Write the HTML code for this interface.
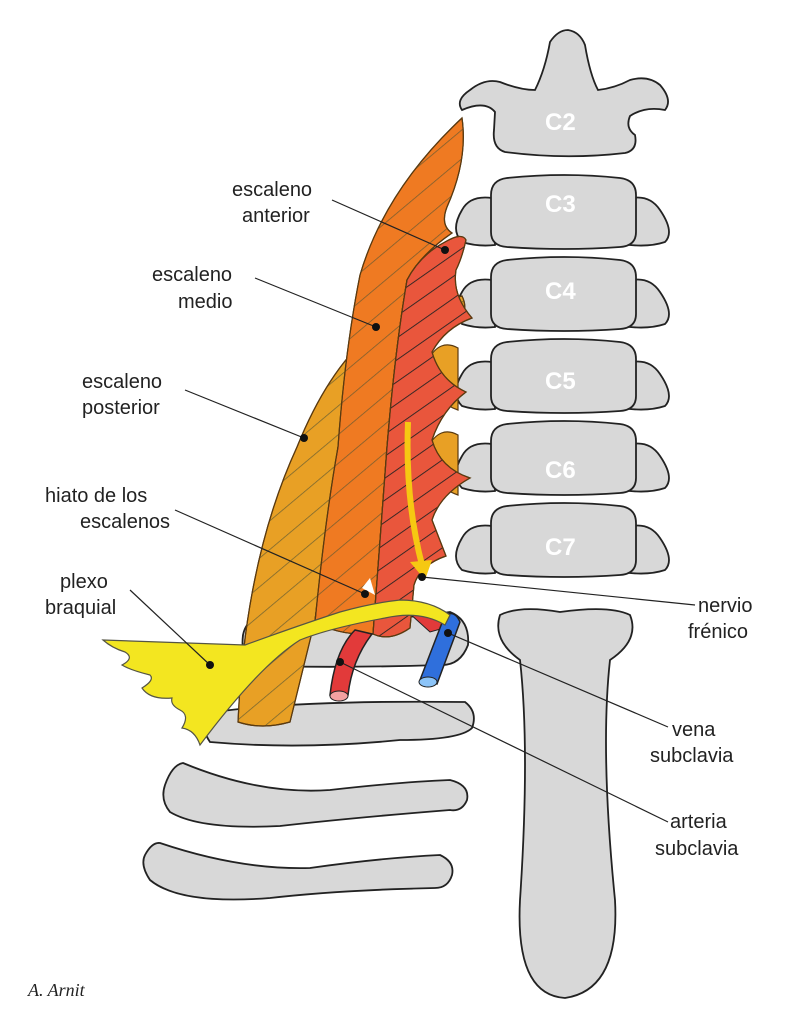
<!DOCTYPE html>
<html><head><style>
html,body{margin:0;padding:0;background:#fff;}
svg{display:block}
text{font-family:"Liberation Sans",sans-serif;font-size:20px;fill:#222}
.w{fill:#fff;font-weight:bold;font-size:24px}
</style></head><body>
<svg width="787" height="1023" viewBox="0 0 787 1023">
<defs>
<pattern id="h" patternUnits="userSpaceOnUse" width="22" height="22" patternTransform="rotate(-40)">
<line x1="0" y1="0" x2="22" y2="0" stroke="#553" stroke-width="1.5" opacity="0.8"/>
</pattern>
<pattern id="h2" patternUnits="userSpaceOnUse" width="18" height="18" patternTransform="rotate(-35)">
<line x1="0" y1="0" x2="18" y2="0" stroke="#222" stroke-width="1.8"/>
</pattern>
<g id="v">
<path d="M492,198 Q470,195 462,210 Q450,230 462,242 Q478,247 495,245 L495,198Z"/>
<path d="M632,198 Q650,195 660,210 Q675,232 665,242 Q650,247 630,245 L630,198Z"/>
<path d="M507,178 Q565,172 620,178 Q636,180 636,195 L636,232 Q636,246 620,247 Q565,251 507,247 Q491,246 491,232 L491,195 Q491,180 507,178Z"/>
</g>
</defs>
<g stroke="#222" stroke-width="1.8" fill="#d8d8d8">
<path d="M500,615 Q520,605 560,612 Q610,605 630,615 Q640,640 610,660 Q600,750 615,900 Q620,990 565,998 Q515,995 520,900 Q530,750 520,660 Q492,640 500,615Z"/>
<path d="M258,620 Q360,625 450,612 Q470,620 468,645 Q460,666 440,665 Q350,668 255,666 Q240,660 243,635 Q246,620 258,620Z"/>
<path d="M215,712 Q300,700 465,702 Q478,712 472,728 Q460,740 400,740 Q300,750 210,742 Q198,725 215,712Z"/>
<path d="M183,763 Q260,795 330,790 Q400,782 450,780 Q470,785 467,800 Q462,812 450,810 Q350,818 280,826 Q200,830 170,812 Q160,800 165,785 Q172,765 183,763Z"/>
<path d="M160,843 Q240,870 310,868 Q380,858 440,855 Q455,862 452,875 Q448,888 435,888 Q340,890 270,898 Q180,905 150,880 Q140,865 145,855 Q152,842 160,843Z"/>
<path d="M495,112 Q485,100 462,110 Q455,100 470,90 Q485,78 500,82 Q520,90 535,90 Q545,70 550,42 Q558,30 568,30 Q580,32 585,45 Q590,75 598,90 Q615,88 630,80 Q648,75 660,85 Q673,100 665,110 Q645,106 630,116 Q625,128 635,135 Q638,150 625,153 Q565,160 505,152 Q492,148 494,130Z"/>
<use href="#v" y="0"/>
<use href="#v" y="82"/>
<use href="#v" y="164"/>
<use href="#v" y="246"/>
<use href="#v" y="328"/>
</g>
<text class="w" x="545" y="130">C2</text>
<text class="w" x="545" y="212">C3</text>
<text class="w" x="545" y="299">C4</text>
<text class="w" x="545" y="389">C5</text>
<text class="w" x="545" y="478">C6</text>
<text class="w" x="545" y="555">C7</text>
<g stroke="#5a3a10" stroke-width="1.2">
<path d="M238,722 Q245,560 297,447 Q320,390 350,355 Q400,310 462,296 Q470,312 455,325 L410,340 Q360,400 338,447 L315,620 L290,722 Q262,730 238,722Z" fill="#e8a025"/>
<path d="M238,722 Q245,560 297,447 Q320,390 350,355 Q400,310 462,296 Q470,312 455,325 L410,340 Q360,400 338,447 L315,620 L290,722 Q262,730 238,722Z" fill="url(#h)"/>
<path d="M315,622 Q325,520 338,447 Q345,350 360,275 Q385,190 462,118 Q468,160 447,207 Q440,225 452,233 Q420,255 407,280 Q395,350 387,447 L373,634 Q340,636 315,622Z" fill="#ef7a22"/>
<path d="M315,622 Q325,520 338,447 Q345,350 360,275 Q385,190 462,118 Q468,160 447,207 Q440,225 452,233 Q420,255 407,280 Q395,350 387,447 L373,634 Q340,636 315,622Z" fill="url(#h)"/>
<path d="M428,360 Q440,338 458,348 L458,410 Q428,400 428,360Z M428,447 Q440,425 458,435 L458,495 Q428,485 428,447Z" fill="#e8a025"/>
<path d="M373,634 L387,447 Q395,350 407,280 Q420,255 445,242 Q462,232 466,240 Q462,258 456,270 Q452,295 472,318 Q445,328 432,352 Q440,380 466,392 Q442,410 432,440 Q440,468 470,478 Q440,495 432,520 L446,556 Q420,565 414,585 L410,628 Q390,642 373,634Z" fill="#e9563c"/>
<path d="M373,634 L387,447 Q395,350 407,280 Q420,255 445,242 Q462,232 466,240 Q462,258 456,270 Q452,295 472,318 Q445,328 432,352 Q440,380 466,392 Q442,410 432,440 Q440,468 470,478 Q440,495 432,520 L446,556 Q420,565 414,585 L410,628 Q390,642 373,634Z" fill="url(#h2)"/>
</g>
<path d="M408,612 Q440,600 455,625 L430,632 Z" fill="#e23a3a" stroke="#222"/>
<path d="M330,695 Q335,650 355,630 L372,634 Q352,660 348,695Z" fill="#e23a3a" stroke="#222" stroke-width="1.5"/>
<ellipse cx="339" cy="696" rx="9" ry="5" fill="#f3a0a0" stroke="#222"/>
<path d="M420,680 L445,615 Q455,610 460,622 L437,684Z" fill="#2f6fdc" stroke="#222" stroke-width="1.5"/>
<ellipse cx="428" cy="682" rx="9" ry="5" fill="#8cc4f8" stroke="#222"/>
<path d="M103,640 Q160,642 245,645 Q300,625 340,612 Q372,603 400,600 Q430,600 450,615 L445,625 Q420,610 385,618 Q330,628 300,640 Q260,665 200,745 Q195,730 182,728 Q190,715 180,710 Q170,705 172,698 Q150,700 142,688 Q155,680 150,675 Q130,670 122,665 Q135,658 125,652 Q112,648 103,640Z" fill="#f3e620" stroke="#554" stroke-width="1.2"/>
<path d="M408,422 Q405,500 422,565" stroke="#f6c812" stroke-width="6" fill="none"/>
<path d="M410,562 L432,560 L425,580Z" fill="#f6c812"/>
<path d="M362,588 L370,578 L375,595Z" fill="#fff"/>
<g stroke="#222" stroke-width="1.2" fill="none">
<line x1="332" y1="200" x2="445" y2="250"/>
<line x1="255" y1="278" x2="376" y2="327"/>
<line x1="185" y1="390" x2="304" y2="438"/>
<line x1="175" y1="510" x2="365" y2="594"/>
<line x1="130" y1="590" x2="210" y2="665"/>
<line x1="422" y1="577" x2="695" y2="605"/>
<line x1="448" y1="633" x2="668" y2="727"/>
<line x1="340" y1="662" x2="668" y2="822"/>
</g>
<g fill="#111">
<circle cx="445" cy="250" r="4"/><circle cx="376" cy="327" r="4"/><circle cx="304" cy="438" r="4"/>
<circle cx="365" cy="594" r="4"/><circle cx="210" cy="665" r="4"/><circle cx="422" cy="577" r="4"/>
<circle cx="448" cy="633" r="4"/><circle cx="340" cy="662" r="4"/>
</g>
<text x="232" y="196">escaleno</text><text x="242" y="222">anterior</text>
<text x="152" y="281">escaleno</text><text x="178" y="308">medio</text>
<text x="82" y="388">escaleno</text><text x="82" y="414">posterior</text>
<text x="45" y="502">hiato de los</text><text x="80" y="528">escalenos</text>
<text x="60" y="588">plexo</text><text x="45" y="614">braquial</text>
<text x="698" y="612">nervio</text><text x="688" y="638">frénico</text>
<text x="672" y="736">vena</text><text x="650" y="762">subclavia</text>
<text x="670" y="828">arteria</text><text x="655" y="855">subclavia</text>
<text x="28" y="996" style="font-family:'Liberation Serif',serif;font-style:italic;font-size:18px">A. Arnit</text>
</svg>
</body></html>
